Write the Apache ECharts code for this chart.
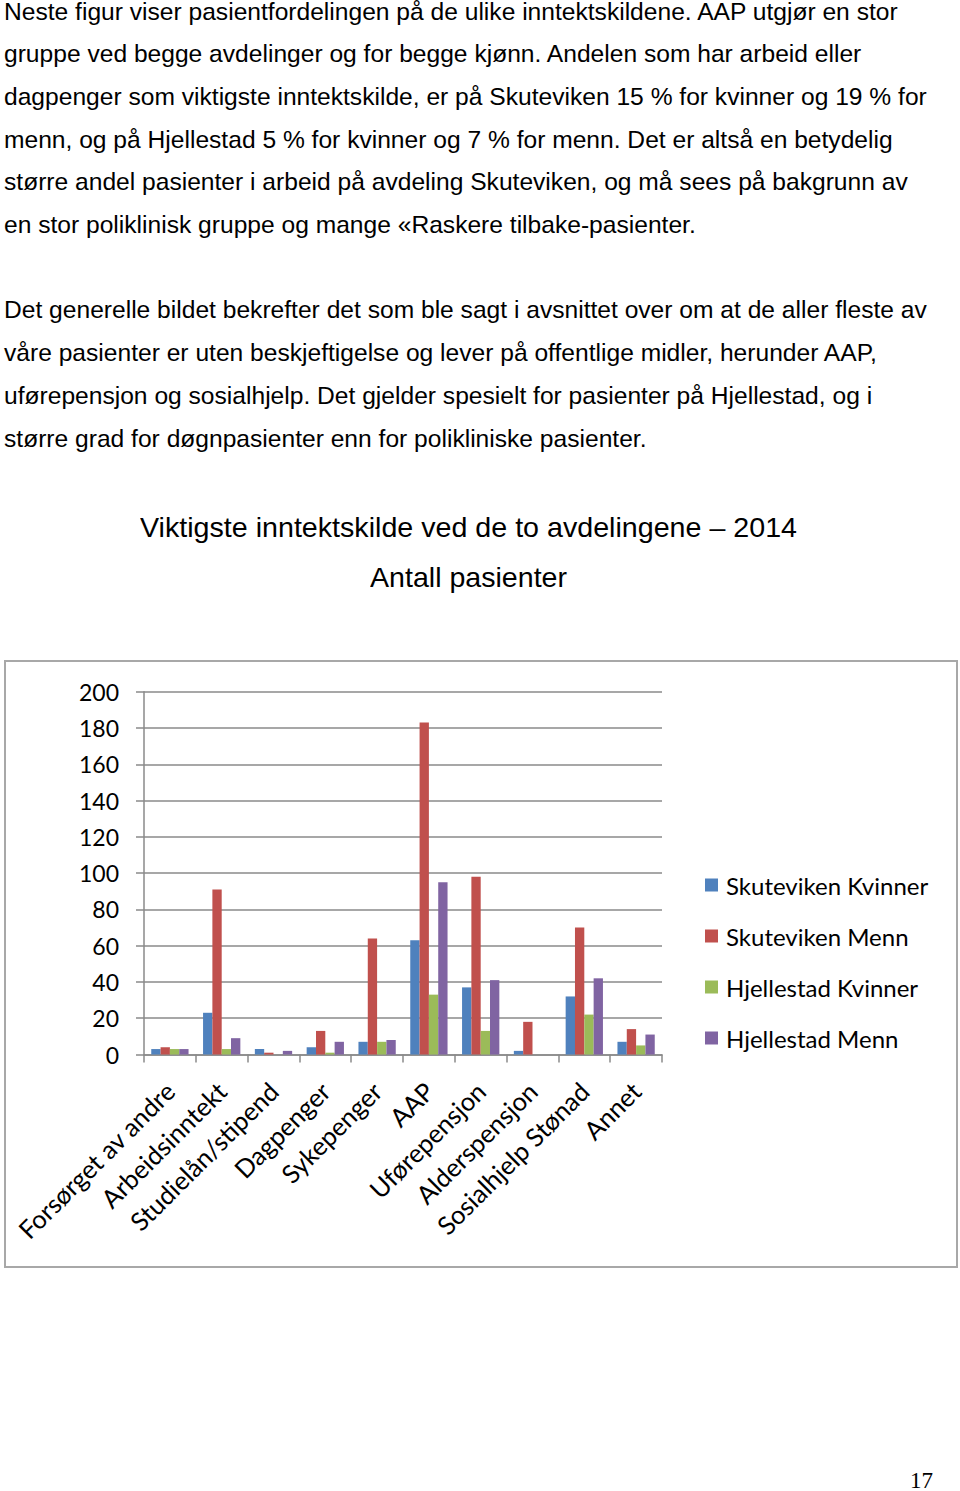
<!DOCTYPE html>
<html>
<head>
<meta charset="utf-8">
<script src="https://cdn.jsdelivr.net/npm/echarts@6/dist/echarts.min.js"></script>
<style>
  html, body { margin: 0; padding: 0; background: #fff; }
  body { width: 960px; height: 1491px; position: relative; overflow: hidden; }
  .para { position: absolute; left: 4px; font-family: "Liberation Sans", Arial, sans-serif; font-size: 24.6px; line-height: 42.85px; color: #000; white-space: pre; }
  .title { position: absolute; left: 0; font-family: "Liberation Sans", Arial, sans-serif; color: #000; white-space: pre; line-height: 1; transform-origin: 0 0; }
  #box { position: absolute; left: 4px; top: 660px; width: 954px; height: 608px; box-sizing: border-box; border: 2px solid #a8a8a8; }
  #chart { position: absolute; left: 0; top: 660px; width: 960px; height: 610px; }
  #pnum { position: absolute; left: 910px; top: 1469px; font-family: "Liberation Serif", "Times New Roman", serif; font-size: 23px; line-height: 1; color: #000; }
</style>
</head>
<body>
<div class="para" style="top:0px;line-height:24.6px">Neste figur viser pasientfordelingen på de ulike inntektskildene. AAP utgjør en stor</div>
<div class="para" style="top:32.85px">gruppe ved begge avdelinger og for begge kjønn. Andelen som har arbeid eller
dagpenger som viktigste inntektskilde, er på Skuteviken 15 % for kvinner og 19 % for
menn, og på Hjellestad 5 % for kvinner og 7 % for menn. Det er altså en betydelig
større andel pasienter i arbeid på avdeling Skuteviken, og må sees på bakgrunn av
en stor poliklinisk gruppe og mange «Raskere tilbake-pasienter.</div>
<div class="para" style="top:289px">Det generelle bildet bekrefter det som ble sagt i avsnittet over om at de aller fleste av
våre pasienter er uten beskjeftigelse og lever på offentlige midler, herunder AAP,
uførepensjon og sosialhjelp. Det gjelder spesielt for pasienter på Hjellestad, og i
større grad for døgnpasienter enn for polikliniske pasienter.</div>
<div class="title" id="t1" data-left="140" data-width="657" style="top:514px;font-size:28px">Viktigste inntektskilde ved de to avdelingene – 2014</div>
<div class="title" id="t2" data-left="370" data-width="197" style="top:564px;font-size:28px">Antall pasienter</div>
<div id="box"></div>
<div id="chart"></div>
<div id="pnum">17</div>
<script>
// ---- data ----
var categories = ["Forsørget av andre", "Arbeidsinntekt", "Studielån/stipend", "Dagpenger", "Sykepenger", "AAP", "Uførepensjon", "Alderspensjon", "Sosialhjelp Stønad", "Annet"];
var seriesNames = ["Skuteviken Kvinner", "Skuteviken Menn", "Hjellestad Kvinner", "Hjellestad Menn"];
var skutevikenKvinner = [3, 23, 3, 4, 7, 63, 37, 2, 32, 7];
var skutevikenMenn    = [4, 91, 1, 13, 64, 183, 98, 18, 70, 14];
var hjellestadKvinner = [3, 3, 0, 1, 7, 33, 13, 0, 22, 5];
var hjellestadMenn    = [3, 9, 2, 7, 8, 95, 41, 0, 42, 11];
var yTicks = [0, 20, 40, 60, 80, 100, 120, 140, 160, 180, 200];

// fit titles to measured widths
['t1', 't2'].forEach(function (id) {
  var el = document.getElementById(id);
  var w = el.getBoundingClientRect().width;
  var target = parseFloat(el.dataset.width);
  el.style.left = el.dataset.left + 'px';
  el.style.transform = 'scaleX(' + (target / w) + ')';
});

var colors = ['#4F81BD', '#C0504D', '#9BBB59', '#8064A2'];
var values = [skutevikenKvinner, skutevikenMenn, hjellestadKvinner, hjellestadMenn];
var font = 'Lato, "Open Sans", sans-serif';
var grey = '#8a8a8a';

var chart = echarts.init(document.getElementById('chart'), null, { renderer: 'svg' });
chart.setOption({
  animation: false,
  backgroundColor: 'transparent',
  color: colors,
  grid: { left: 144, right: 298, top: 31.7, bottom: 215.5, containLabel: false },
  legend: {
    orient: 'vertical',
    left: 705,
    top: 213,
    padding: 0,
    itemWidth: 13,
    itemHeight: 13,
    itemGap: 27,
    icon: 'rect',
    data: seriesNames,
    textStyle: { fontFamily: font, fontSize: 24, color: '#000', padding: [0, 0, 0, 3] }
  },
  xAxis: {
    type: 'category',
    data: categories,
    boundaryGap: true,
    axisLine: { lineStyle: { color: grey, width: 1.5 } },
    axisTick: { show: true, length: 8, inside: false, lineStyle: { color: grey, width: 1.5 } },
    axisLabel: { rotate: 45, interval: 0, margin: 32, fontFamily: font, fontSize: 25.5, color: '#000' },
    splitLine: { show: false }
  },
  yAxis: {
    type: 'value',
    min: yTicks[0],
    max: yTicks[yTicks.length - 1],
    interval: yTicks[1] - yTicks[0],
    axisLine: { show: true, lineStyle: { color: grey, width: 1.5 } },
    axisTick: { show: true, length: 8, inside: false, lineStyle: { color: grey, width: 1.5 } },
    axisLabel: { margin: 25, fontFamily: font, fontSize: 23, color: '#000' },
    splitLine: { show: true, lineStyle: { color: grey, width: 1.5 } }
  },
  series: seriesNames.map(function (n, i) {
    return {
      name: n,
      type: 'bar',
      data: values[i],
      barGap: '0%',
      barCategoryGap: '28%',
      itemStyle: { color: colors[i] }
    };
  })
});
</script>
</body>
</html>
